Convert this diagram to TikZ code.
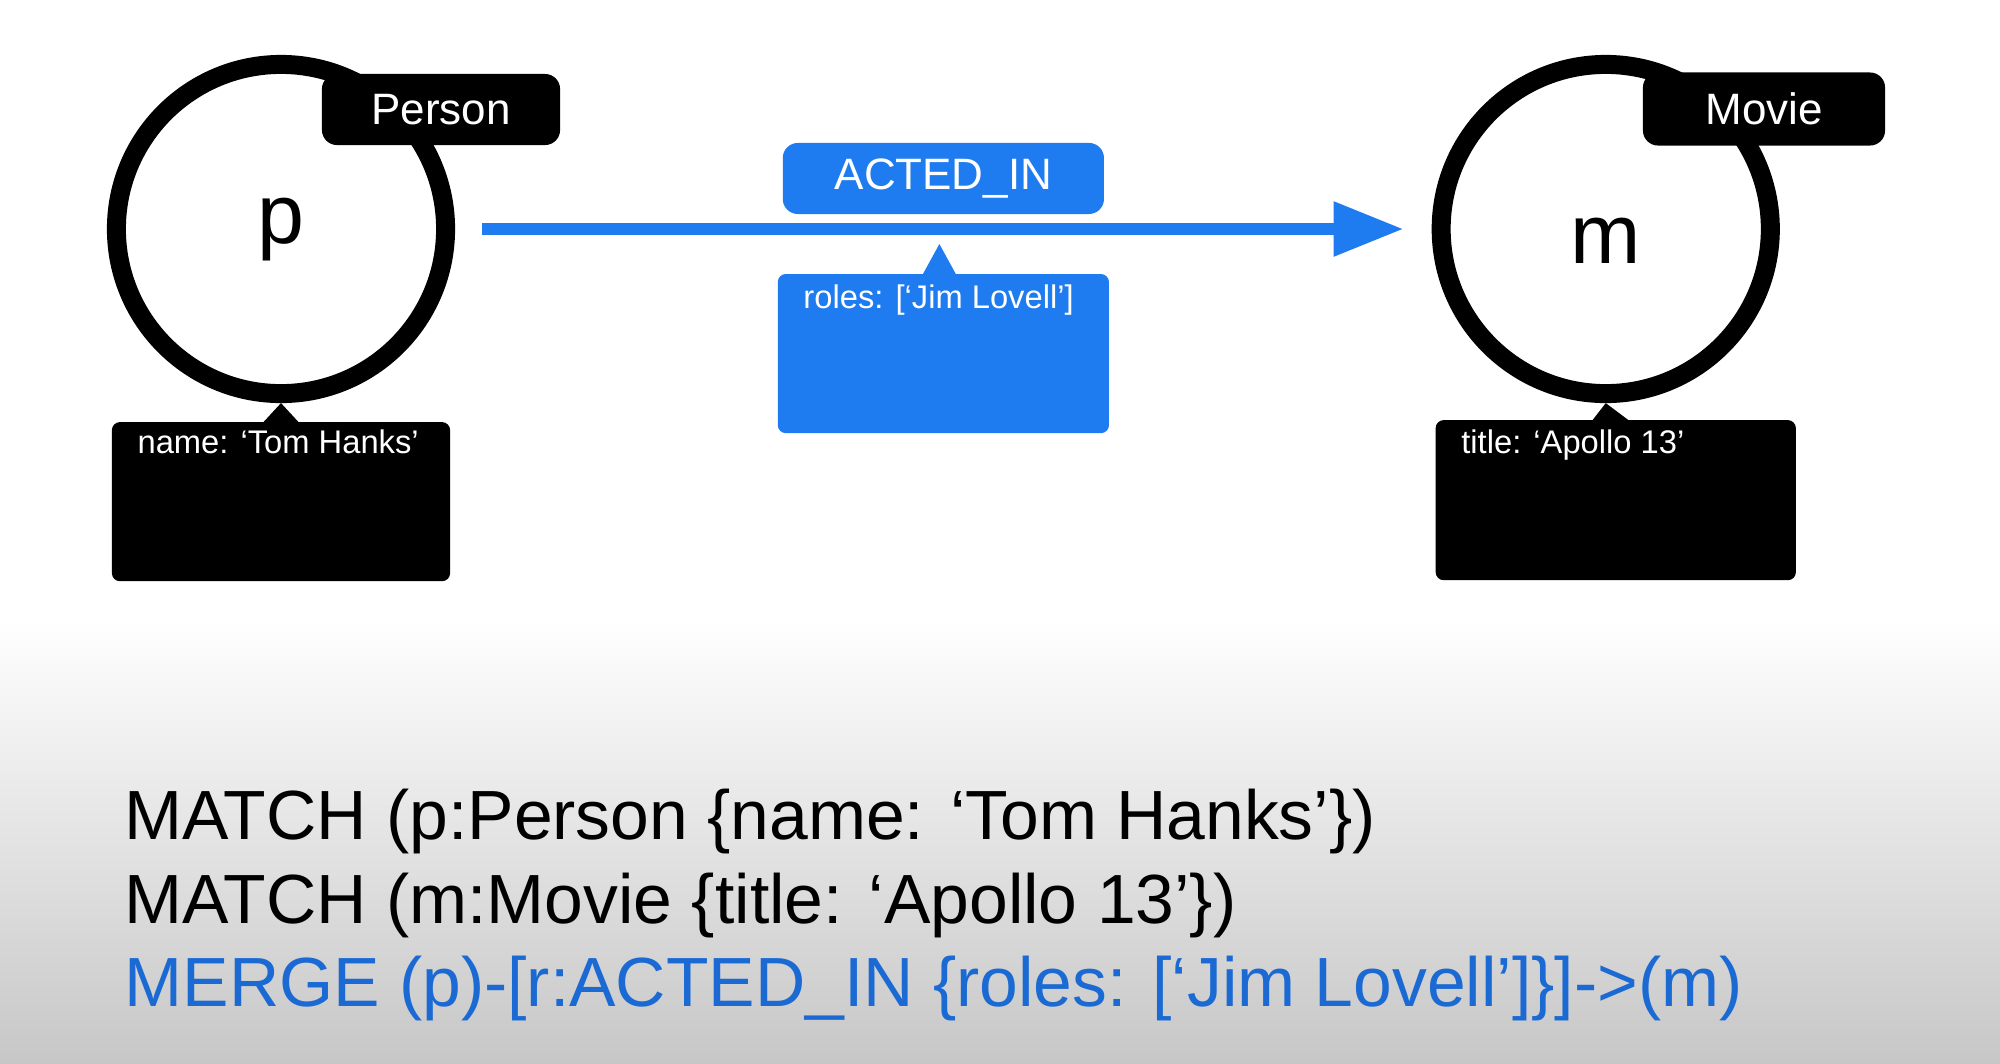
\documentclass[tikz,border=0pt]{standalone}
\usepackage{fontspec}
\setmainfont{Liberation Sans}
\usetikzlibrary{arrows.meta,positioning,calc}
\definecolor{relblue}{RGB}{31,123,240}
\definecolor{codeblue}{RGB}{27,106,212}
\tikzset{ent/.style={draw, circle, line width=5.4pt, fill=white, inner sep=0pt,
    minimum size=3.29cm, text depth=0pt, font=\fontsize{24}{24}\selectfont}}
\tikzset{nodelbl/.style={fill=black, text=white, rounded corners=0.15cm, inner sep=0pt, outer sep=0pt,
    minimum width=2.38cm, minimum height=0.71cm, font=\fontsize{12.5}{15}\selectfont}}
\tikzset{propbox/.style={fill=black, rounded corners=0.08cm, inner sep=0pt, outer sep=0pt,
    minimum width=3.38cm, minimum height=1.59cm}}
\tikzset{proptext/.style={text=white, inner sep=0pt, anchor=base west, font=\fontsize{9.3}{11}\selectfont}}
\tikzset{rel/.style={draw=relblue, line width=3.4pt, -{Triangle[length=19.9pt,width=14.8pt]}, shorten <=7.7pt, shorten >=8pt}}
\tikzstyle{code}=[inner sep=0pt, anchor=base west, font=\fontsize{19.8}{24}\selectfont]

\begin{document}
\begin{tikzpicture}[x=0.01cm, y=-0.01cm]
\useasboundingbox (0,0) rectangle (2000,1063);
\fill[white] (0,0) rectangle (2000,1063);
\shade[top color=white, bottom color=black!22] (0,620) rectangle (2000,1063);

% entities
\node[ent, text height=0.28cm] (p) at (281,229) {p};
\node[ent, text height=0.68cm, right=9.76cm of p] (m) {m};
\node[nodelbl] (plbl) at (441,109.5) {Person};
\node[nodelbl, minimum width=2.42cm, minimum height=0.73cm] (mlbl) at (1764,109) {Movie};

% properties
\node[propbox, below=0.19cm of p] (pprops) {};
\node[propbox, below=0.17cm of m, xshift=0.1cm, minimum width=3.6cm, minimum height=1.6cm] (mprops) {};
\fill ($(pprops.north)+(-18.5,1)$) -- (p.south) -- ($(pprops.north)+(18.5,1)$) -- cycle;
\fill ($(m.south |- mprops.north)+(-14,1)$) -- (m.south) -- ($(m.south |- mprops.north)+(24,1)$) -- cycle;
\node[proptext] (pname) at ($(pprops.north west)+(25,31)$) {name: ‘Tom Hanks’};
\node[proptext] (mtitle) at ($(mprops.north west)+(25,33)$) {title: ‘Apollo 13’};

% relationship
\path[rel] (p) -- node[midway, above=0.15cm, nodelbl, fill=relblue, minimum width=3.21cm, minimum height=0.71cm] (acted) {ACTED\_IN}
  node[midway, below=0.45cm, propbox, fill=relblue, minimum width=3.31cm, minimum height=1.59cm] (rprops) {} (m);
\fill[relblue] ($(rprops.north)+(-21,1)$) -- ($(rprops.north)+(-4,-30)$) -- ($(rprops.north)+(13,1)$) -- cycle;
\node[proptext] (rroles) at ($(rprops.north west)+(25,34)$) {roles: [‘Jim Lovell’]};

% query
\node[code] (q1) at (124,839) {MATCH (p:Person \{name: ‘Tom Hanks’\})};
\node[code] (q2) at (124,923) {MATCH (m:Movie \{title: ‘Apollo 13’\})};
\node[code, text=codeblue] (q3) at (124,1006) {MERGE (p)-[r:ACTED\_IN \{roles: [‘Jim Lovell’]\}]->(m)};
\end{tikzpicture}
\end{document}
